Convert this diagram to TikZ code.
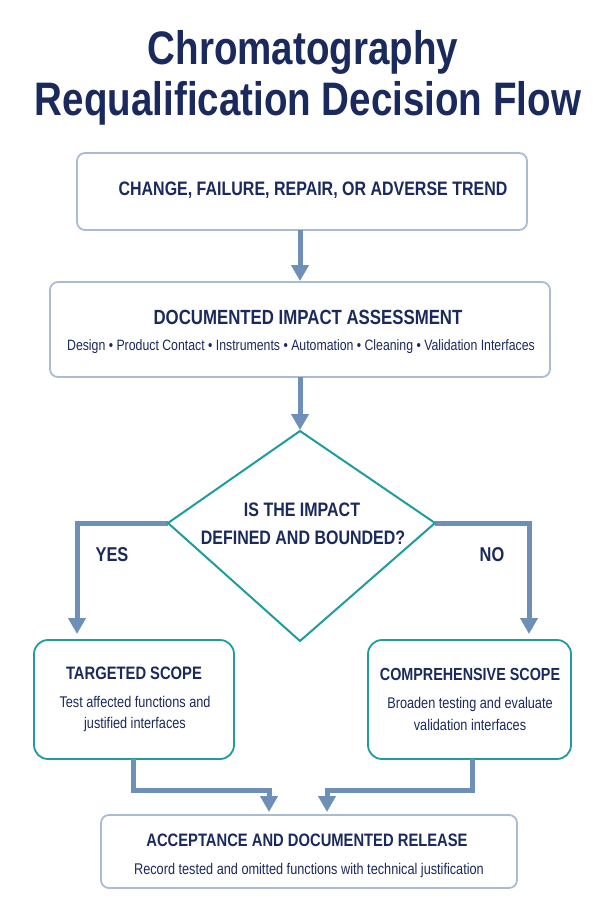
\documentclass[tikz,border=0pt]{standalone}
\usepackage{fontspec}
\setmainfont{Liberation Sans}[FakeStretch=0.82]
\usetikzlibrary{arrows.meta,shapes.geometric}
\definecolor{navy}{HTML}{1B2A5C}
\definecolor{boxline}{HTML}{A9BCD3}
\definecolor{teal1}{HTML}{1F9C9C}
\definecolor{arr}{HTML}{6E8FB8}
\newcommand{\fsz}[1]{\fontsize{#1}{#1}\selectfont}
\begin{document}
\begin{tikzpicture}[x=1pt,y=-1pt,
  box/.style={draw=boxline,line width=1.8pt,rounded corners=8pt,fill=white},
  tbox/.style={draw=teal1,line width=1.8pt,rounded corners=14pt,fill=white},
  ttl/.style={text=navy,font=\bfseries\fsz{17}},
  sub/.style={text=navy,font=\fsz{15.5},align=center},
  flow/.style={draw=arr,line width=5pt,-{Triangle[width=17pt,length=16pt]}}]
\useasboundingbox (0,0) rectangle (600,900);
\fill[white] (0,0) rectangle (600,900);
\node[text=navy,font=\bfseries\fsz{47}] (t1) at (303,52) {Chromatography};
\node[text=navy,font=\bfseries\fsz{47}] (t2) at (308,103) {Requalification Decision Flow};
% boxes
\draw[box] (77,153) rectangle (527,230);
\node[ttl,font=\bfseries\fsz{19.5}] (b1) at (313,190) {CHANGE, FAILURE, REPAIR, OR ADVERSE TREND};
\draw[box] (50,282) rectangle (550,377);
\node[ttl,font=\bfseries\fsz{20.5}] (b2) at (308,317) {DOCUMENTED IMPACT ASSESSMENT};
\node[sub,font=\fsz{15}] (b2s) at (301,347) {Design \textbullet{} Product Contact \textbullet{} Instruments \textbullet{} Automation \textbullet{} Cleaning \textbullet{} Validation Interfaces};
% connectors
\coordinate (a1s) at (300,230); \coordinate (a1e) at (300,281);
\coordinate (a2s) at (300,377); \coordinate (a2e) at (300,430);
\draw[flow] (a1s) -- (a1e);
\draw[flow] (a2s) -- (a2e);
% diamond
\coordinate (dT) at (300,431); \coordinate (dL) at (168,523);
\coordinate (dR) at (435,523); \coordinate (dB) at (300,641);
\coordinate (yE) at (77,634); \coordinate (nE) at (529,634);
\draw[flow] (dL) -| (yE);
\draw[flow] (dR) -| (nE);
\draw[teal1,line width=2pt,fill=white,line join=miter] (dT) -- (dR) -- (dB) -- (dL) -- cycle;
\node[ttl,font=\bfseries\fsz{19.5}] (q1) at (302,510) {IS THE IMPACT};
\node[ttl,font=\bfseries\fsz{19.5}] (q2) at (303,538) {DEFINED AND BOUNDED?};
\node[ttl,font=\bfseries\fsz{20}] (yes) at (112,555) {YES};
\node[ttl,font=\bfseries\fsz{20}] (no) at (492,555) {NO};
% scope boxes
\draw[tbox] (34,640) rectangle (234,759);
\node[ttl,font=\bfseries\fsz{18}] (ts) at (134,673) {TARGETED SCOPE};
\node[sub] (tsd) at (135,714) {Test affected functions and\\[6pt]justified interfaces};
\draw[tbox] (368,640) rectangle (571,759);
\node[ttl,font=\bfseries\fsz{17.5}] (cs) at (470,674) {COMPREHENSIVE SCOPE};
\node[sub] (csd) at (470,714) {Broaden testing and evaluate\\[6pt]validation interfaces};
% merge
\coordinate (m1) at (133,759); \coordinate (m1b) at (133,790); \coordinate (m1e) at (269,812);
\coordinate (m2) at (472,759); \coordinate (m2b) at (472,790); \coordinate (m2e) at (327,812);
\draw[flow] (m1) -- (m1b) -| (m1e);
\draw[flow] (m2) -- (m2b) -| (m2e);
\draw[box] (101,815) rectangle (517,888);
\node[ttl,font=\bfseries\fsz{18}] (fin) at (307,840) {ACCEPTANCE AND DOCUMENTED RELEASE};
\node[sub] (fins) at (309,870) {Record tested and omitted functions with technical justification};
\end{tikzpicture}
\end{document}
